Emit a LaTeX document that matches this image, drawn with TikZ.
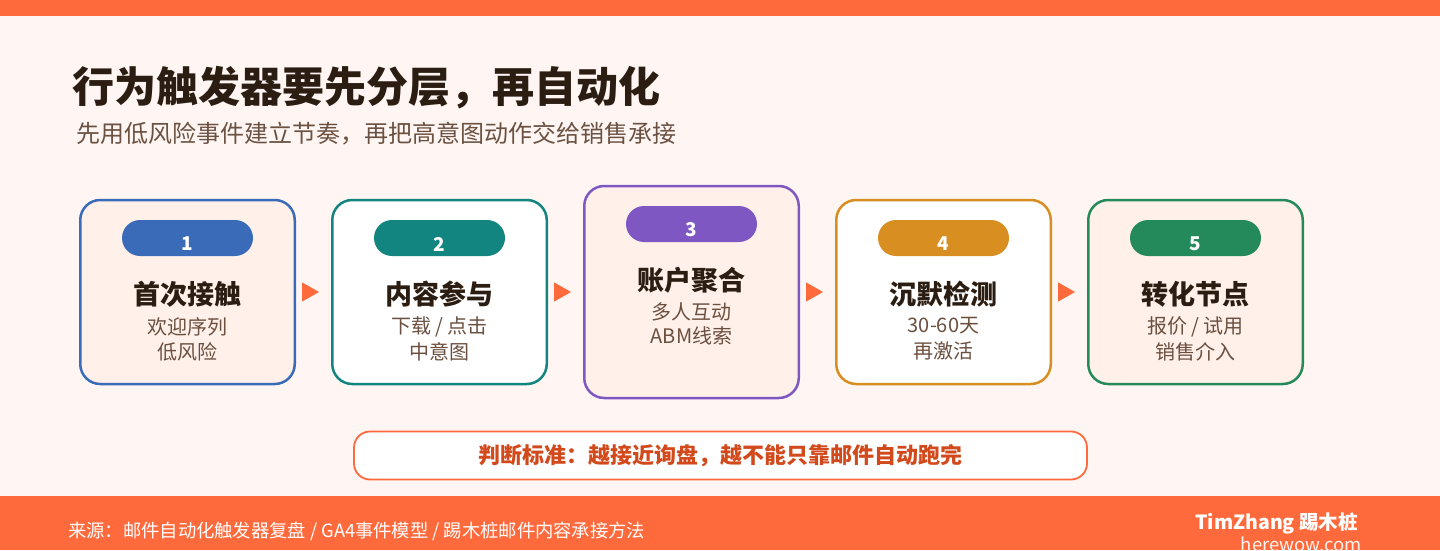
\documentclass[tikz,border=0pt]{standalone}
\usepackage{fontspec}
\setmainfont{Noto Sans CJK SC}
\usetikzlibrary{arrows.meta}
\definecolor{accent}{HTML}{FF6A3D}
\definecolor{bgc}{HTML}{FFF6F3}
\definecolor{peach}{HTML}{FFF0EA}
\definecolor{titlec}{HTML}{2B1D12}
\definecolor{subc}{HTML}{6B5142}
\definecolor{linec}{HTML}{6B4F3F}
\definecolor{bannerc}{HTML}{D2491B}
\definecolor{cA}{HTML}{3A6BB8}
\definecolor{cB}{HTML}{128580}
\definecolor{cC}{HTML}{7E57C2}
\definecolor{cD}{HTML}{D98E22}
\definecolor{cE}{HTML}{248A5C}
\tikzset{
  cardbox/.style={draw=#1, line width=2.5pt, rounded corners=20pt, minimum width=214.5pt, minimum height=184pt, inner sep=0pt},
  pillbox/.style={fill=#1, rounded corners=18pt, minimum width=131pt, minimum height=36pt, inner sep=0pt},
  numtxt/.style={text=white, font=\fontsize{19}{22}\bfseries\selectfont, inner sep=0pt},
  cardtitle/.style={text=titlec, font=\fontsize{27}{31}\bfseries\selectfont, inner sep=0pt},
  cardline/.style={text=linec, font=\fontsize{20}{24}\selectfont, inner sep=0pt},
  flow/.style={draw=accent, line width=1pt, shorten <=6pt, shorten >=12pt, -{Triangle[length=17pt,width=19pt]}, accent},
}
\begin{document}
\begin{tikzpicture}[x=1pt,y=1pt]
\useasboundingbox (0,0) rectangle (1440,550);
\fill[bgc] (0,0) rectangle (1440,550);
\fill[accent] (0,534) rectangle (1440,550);
\fill[accent] (0,0) rectangle (1440,54);

\node[anchor=west, inner sep=0pt, text=titlec, font=\fontsize{42}{50}\bfseries\selectfont] (title) at (72,462) {行为触发器要先分层，再自动化};
\node[anchor=west, inner sep=0pt, text=subc, font=\fontsize{24}{28}\selectfont] (subtitle) at (76,416) {先用低风险事件建立节奏，再把高意图动作交给销售承接};

% cards
\node[cardbox=cA, fill=peach] (c1) at (187.5,258) {};
\node[cardbox=cB, fill=white] (c2) at (439.5,258) {};
\node[cardbox=cC, fill=peach, minimum height=212pt] (c3) at (691.5,258) {};
\node[cardbox=cD, fill=white] (c4) at (943.5,258) {};
\node[cardbox=cE, fill=peach] (c5) at (1195.5,258) {};

% card 1
\node[pillbox=cA] (p1) at (187.5,312) {};
\node[numtxt] (n1) at (187.5,306) {1};
\node[cardtitle] (t1) at (187.5,256) {首次接触};
\node[cardline] (a1) at (187.5,223) {欢迎序列};
\node[cardline] (b1) at (187.5,198) {低风险};
% card 2
\node[pillbox=cB] (p2) at (439.5,312) {};
\node[numtxt] (n2) at (439.5,306) {2};
\node[cardtitle] (t2) at (439.5,256) {内容参与};
\node[cardline] (a2) at (439.5,223) {下载 / 点击};
\node[cardline] (b2) at (439.5,198) {中意图};
% card 3
\node[pillbox=cC] (p3) at (691.5,326) {};
\node[numtxt] (n3) at (691.5,320) {3};
\node[cardtitle] (t3) at (691.5,270) {账户聚合};
\node[cardline] (a3) at (691.5,238) {多人互动};
\node[cardline] (b3) at (691.5,214) {ABM线索};
% card 4
\node[pillbox=cD] (p4) at (943.5,312) {};
\node[numtxt] (n4) at (943.5,306) {4};
\node[cardtitle] (t4) at (943.5,256) {沉默检测};
\node[cardline] (a4) at (943.5,224) {30-60天};
\node[cardline] (b4) at (943.5,199) {再激活};
% card 5
\node[pillbox=cE] (p5) at (1195.5,312) {};
\node[numtxt] (n5) at (1195.5,306) {5};
\node[cardtitle] (t5) at (1195.5,256) {转化节点};
\node[cardline] (a5) at (1195.5,223) {报价 / 试用};
\node[cardline] (b5) at (1195.5,198) {销售介入};

% arrows
\draw[flow] (c1) -- (c2);
\draw[flow] (c2) -- (c3);
\draw[flow] (c3) -- (c4);
\draw[flow] (c4) -- (c5);

% banner
\node[draw=accent, line width=1.8pt, fill=white, rounded corners=16pt, minimum width=733pt, minimum height=48pt, inner sep=0pt] (banner) at (720.5,94.5) {};
\node[text=bannerc, font=\fontsize{22}{26}\bfseries\selectfont, inner sep=0pt] (bannertext) at (720,94) {判断标准：越接近询盘，越不能只靠邮件自动跑完};

% footer
\node[anchor=west, inner sep=0pt, text=white, font=\fontsize{18.3}{22}\selectfont] (source) at (68,19) {来源：邮件自动化触发器复盘 / GA4事件模型 / 踢木桩邮件内容承接方法};
\node[anchor=east, inner sep=0pt, text=white, font=\fontsize{19.5}{23}\bfseries\selectfont] (brand) at (1358,27) {TimZhang 踢木桩};
\node[anchor=east, inner sep=0pt, text=white!92!accent, font=\fontsize{18.5}{22}\selectfont] (site) at (1362,6) {herewow.com};
\end{tikzpicture}
\end{document}
